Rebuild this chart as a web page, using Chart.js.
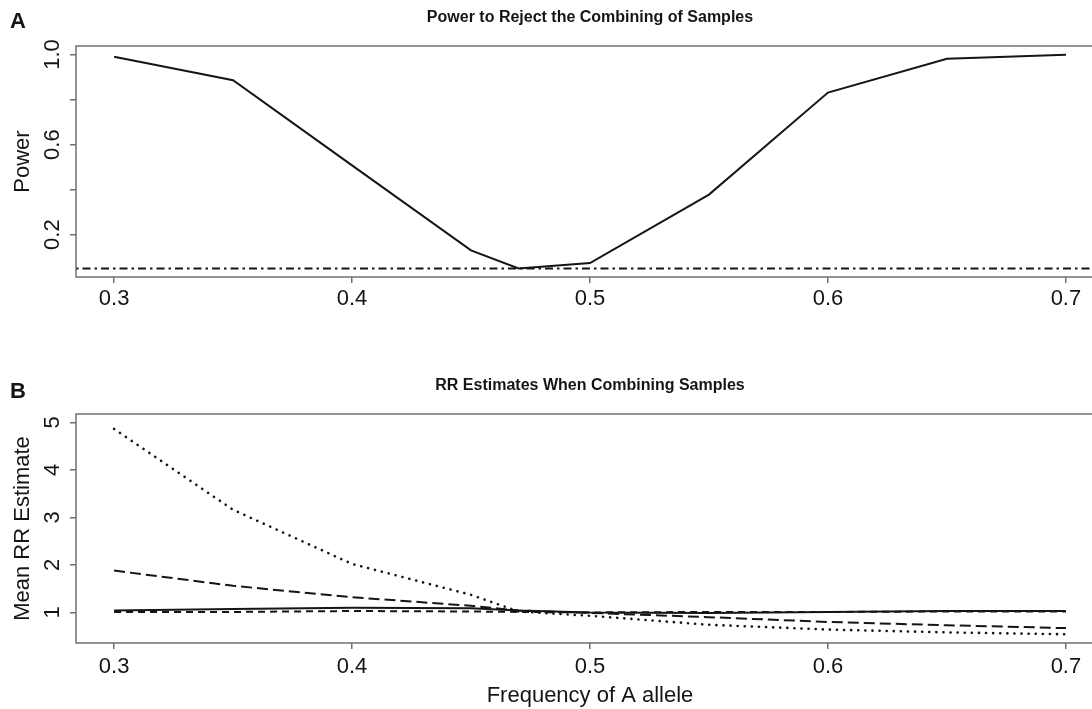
<!DOCTYPE html>
<html>
<head>
<meta charset="utf-8">
<script src="https://cdn.jsdelivr.net/npm/chart.js@4/dist/chart.umd.min.js"></script>
<style>
  html, body { margin: 0; padding: 0; background: #fff; overflow: hidden; width: 1092px; height: 709px; }
  canvas { position: absolute; left: 0; }
  #cA { top: 0; }
  #cB { top: 355px; }
</style>
</head>
<body>
<canvas id="cA" width="1110" height="355"></canvas>
<canvas id="cB" width="1110" height="354"></canvas>
<script>
// ---- data ----
const freq = [0.3, 0.35, 0.4, 0.45, 0.47, 0.5, 0.55, 0.6, 0.65, 0.7];
const power = [0.99, 0.886, 0.508, 0.13, 0.05, 0.074, 0.378, 0.831, 0.981, 0.999];
const alphaLevel = 0.05;
const rrSolid = [1.04, 1.07, 1.10, 1.09, 1.04, 1.00, 0.99, 1.01, 1.03, 1.03];
const rrShortDash = [1.01, 1.01, 1.03, 1.02, 1.01, 1.00, 1.01, 1.01, 1.02, 1.02];
const rrLongDash = [1.88, 1.56, 1.32, 1.14, 1.04, 0.99, 0.90, 0.80, 0.73, 0.67];
const rrDotted = [4.86, 3.16, 2.02, 1.37, 1.02, 0.93, 0.74, 0.64, 0.58, 0.54];
const xTicks = [0.3, 0.4, 0.5, 0.6, 0.7];
const yTicksA = [0.2, 0.4, 0.6, 0.8, 1.0];
const yLabelsA = ['0.2', '', '0.6', '', '1.0'];
const yTicksB = [1, 2, 3, 4, 5];
const xRange = [0.284, 0.716];
const yRangeA = [0.012, 1.038];
const yRangeB = [0.357, 5.174];

const FONT = '"Liberation Sans", Arial, Helvetica, sans-serif';
const AXIS = '#707070';
const INK = '#151515';

const pts = (ys) => freq.map((x, i) => ({ x: x, y: ys[i] }));

const decor = {
  id: 'decor',
  afterDraw(chart, args, opts) {
    const { ctx, chartArea: a } = chart;
    ctx.save();
    ctx.strokeStyle = AXIS;
    ctx.lineWidth = 1.5;
    ctx.strokeRect(a.left, a.top, a.right - a.left, a.bottom - a.top);
    ctx.fillStyle = INK;
    ctx.font = 'bold 16px ' + FONT;
    ctx.textAlign = 'center';
    ctx.textBaseline = 'middle';
    ctx.fillText(opts.title, (a.left + a.right) / 2, a.top - 28);
    ctx.font = 'bold 22px ' + FONT;
    ctx.textAlign = 'left';
    ctx.textBaseline = 'alphabetic';
    ctx.fillText(opts.letter, 10, a.top - opts.letterOff);
    ctx.restore();
  }
};

function xScale(pad) {
  return {
    type: 'linear', min: xRange[0], max: xRange[1],
    afterBuildTicks: s => { s.ticks = xTicks.map(v => ({ value: v })); },
    ticks: { color: INK, font: { size: 22, family: FONT }, padding: pad, callback: v => String(v) },
    grid: { drawOnChartArea: false, drawTicks: true, tickLength: 6, tickColor: AXIS, lineWidth: 1.5 },
    border: { display: false }
  };
}

function yScale(range, ticks, labels, title, pad) {
  return {
    type: 'linear', min: range[0], max: range[1],
    afterBuildTicks: s => { s.ticks = ticks.map(v => ({ value: v })); },
    afterFit: s => { s.width = 76; },
    ticks: {
      color: INK, font: { size: 22, family: FONT }, padding: pad,
      minRotation: 90, maxRotation: 90, crossAlign: 'center',
      callback: (v, i) => labels[i]
    },
    grid: { drawOnChartArea: false, drawTicks: true, tickLength: 6, tickColor: AXIS, lineWidth: 1.5 },
    border: { display: false },
    title: { display: true, text: title, color: INK, font: { size: 22, family: FONT }, padding: { top: 10, bottom: 0 } }
  };
}

const common = {
  responsive: false,
  animation: false,
  devicePixelRatio: 1,
  plugins: { legend: { display: false }, tooltip: { enabled: false }, title: { display: false } },
  elements: { point: { radius: 0 }, line: { tension: 0 } }
};

// ---- Panel A ----
const xA = xScale(3);
xA.afterFit = s => { s.height = 78; };
new Chart(document.getElementById('cA'), {
  type: 'line',
  data: {
    datasets: [
      { data: pts(power), borderColor: INK, borderWidth: 2, fill: false },
      { data: xRange.map(x => ({ x: x, y: alphaLevel })), borderColor: INK, borderWidth: 2,
        borderDash: [2.5, 4, 8, 4], fill: false }
    ]
  },
  options: Object.assign({}, common, {
    layout: { padding: { top: 46, left: 0, right: 6, bottom: 0 } },
    scales: { x: xA, y: yScale(yRangeA, yTicksA, yLabelsA, 'Power', 2) },
    plugins: Object.assign({}, common.plugins, {
      decor: { title: 'Power to Reject the Combining of Samples', letter: 'A', letterOff: 18 }
    })
  }),
  plugins: [decor]
});

// ---- Panel B ----
const xB = xScale(5);
xB.afterFit = s => { s.height = 66; };
xB.title = { display: true, text: 'Frequency of A allele', color: INK, font: { size: 22, family: FONT }, padding: { top: 0, bottom: 0 } };
new Chart(document.getElementById('cB'), {
  type: 'line',
  data: {
    datasets: [
      { data: pts(rrSolid), borderColor: INK, borderWidth: 2, fill: false },
      { data: pts(rrShortDash), borderColor: INK, borderWidth: 2, borderDash: [7, 5], fill: false },
      { data: pts(rrLongDash), borderColor: INK, borderWidth: 2, borderDash: [11, 5], fill: false },
      { data: pts(rrDotted), borderColor: INK, borderWidth: 2.6, borderDash: [0.1, 7], borderCapStyle: 'round', fill: false }
    ]
  },
  options: Object.assign({}, common, {
    layout: { padding: { top: 59, left: 0, right: 6, bottom: 0 } },
    scales: { x: xB, y: yScale(yRangeB, yTicksB, yTicksB.map(String), 'Mean RR Estimate', 11) },
    plugins: Object.assign({}, common.plugins, {
      decor: { title: 'RR Estimates When Combining Samples', letter: 'B', letterOff: 16 }
    })
  }),
  plugins: [decor]
});
</script>
</body>
</html>
